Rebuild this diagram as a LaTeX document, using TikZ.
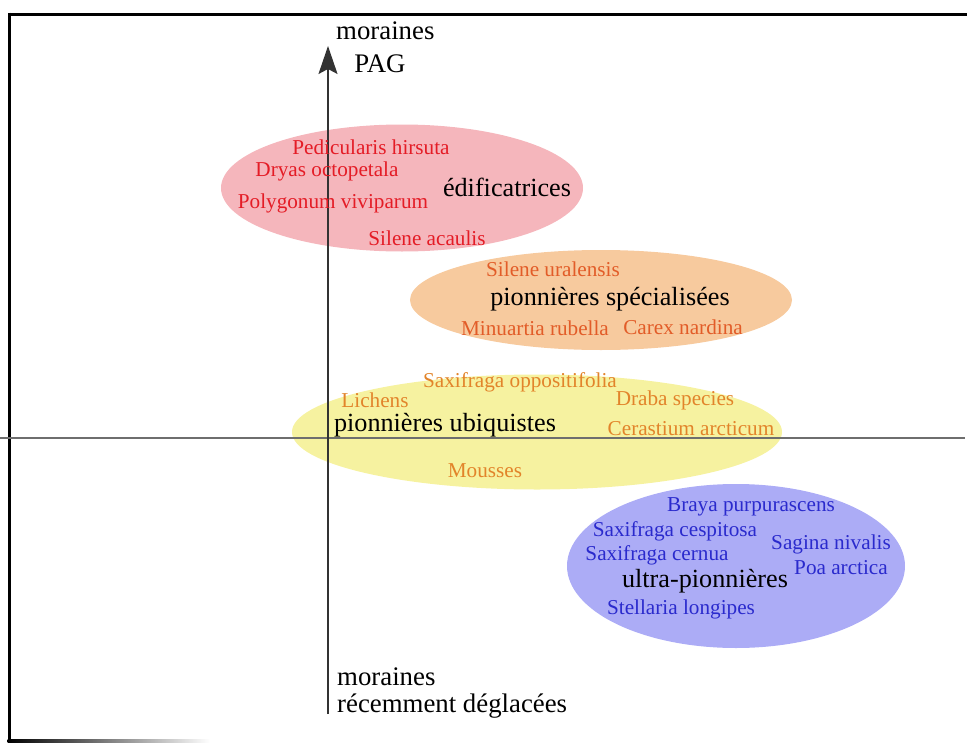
\documentclass[tikz,border=0pt]{standalone}
\usepackage{fontspec}
\setmainfont{Liberation Serif}
\usetikzlibrary{shapes.geometric,arrows.meta}
\definecolor{pinkfill}{RGB}{245,182,188}
\definecolor{orangefill}{RGB}{247,202,158}
\definecolor{yellowfill}{RGB}{246,242,160}
\definecolor{bluefill}{RGB}{172,172,246}
\definecolor{redtxt}{RGB}{228,28,38}
\definecolor{orangetxt}{RGB}{226,92,40}
\definecolor{ambertxt}{RGB}{226,132,42}
\definecolor{bluetxt}{RGB}{42,42,205}
\definecolor{axisgray}{RGB}{110,110,110}
\begin{document}
\begin{tikzpicture}[x=1pt,y=-1pt,
  zone/.style={ellipse,draw=none,inner sep=0pt},
  species/.style={inner sep=0pt,font=\fontsize{21.2}{24}\selectfont},
  group/.style={inner sep=0pt,text=black,font=\fontsize{26.2}{30}\selectfont},
  axislabel/.style={inner sep=0pt,text=black,font=\fontsize{26.8}{30}\selectfont}]
\useasboundingbox (0,0) rectangle (967,744);
% frame
\draw[line width=3pt] (8,14) -- (967,14);
\draw[line width=3pt] (9,12.5) -- (9,742);
\shade[left color=black,right color=white] (7.5,739.5) rectangle (210,742.5);
% zones
\node[zone,fill=orangefill,minimum width=382,minimum height=100] (zspec) at (601,300) {};
\node[zone,fill=pinkfill,minimum width=362,minimum height=127] (zedif) at (402,188) {};
\node[zone,fill=bluefill,minimum width=338,minimum height=164] (zultra) at (736,566) {};
\node[zone,fill=yellowfill,minimum width=490,minimum height=115] (zubiq) at (537,432) {};
% axes
\coordinate (hl) at (0,438);
\coordinate (hr) at (965,438);
\draw[axisgray,line width=1.3pt] (hl) -- (hr);
\coordinate (vb) at (328,714);
\coordinate (vt) at (328,46);
\draw[black!80,line width=1.4pt,-{Stealth[length=28pt,width=19pt,inset=5pt]}] (vb) -- (vt);
% axis labels
\node[axislabel,anchor=west] (m1) at (336,31) {moraines};
\node[axislabel] (pag) at (380,64) {PAG};
\node[axislabel,anchor=west] (m2) at (337,677) {moraines};
\node[axislabel,anchor=west] (rec) at (337,706) {récemment déglacées};
% edificatrices
\node[species,text=redtxt] (ped) at (371,147) {Pedicularis hirsuta};
\node[species,text=redtxt] (dry) at (327,171) {Dryas octopetala};
\node[species,text=redtxt] (pol) at (333,203) {Polygonum viviparum};
\node[group] (edif) at (507,187) {édificatrices};
\node[species,text=redtxt] (sac) at (427,238) {Silene acaulis};
% pionnieres specialisees
\node[species,text=orangetxt] (sur) at (553,269) {Silene uralensis};
\node[group] (spec) at (610,299) {pionnières spécialisées};
\node[species,text=orangetxt] (min) at (535,328) {Minuartia rubella};
\node[species,text=orangetxt] (car) at (683,327) {Carex nardina};
% pionnieres ubiquistes
\node[species,text=ambertxt] (sop) at (520,382) {Saxifraga oppositifolia};
\node[species,text=ambertxt] (lic) at (375,400) {Lichens};
\node[species,text=ambertxt] (dra) at (675,400) {Draba species};
\node[group] (ubiq) at (445,425) {pionnières ubiquistes};
\node[species,text=ambertxt] (cer) at (691,429) {Cerastium arcticum};
\node[species,text=ambertxt] (mou) at (485,471) {Mousses};
% ultra-pionnieres
\node[species,text=bluetxt] (bra) at (751,507) {Braya purpurascens};
\node[species,text=bluetxt] (sce) at (675,531) {Saxifraga cespitosa};
\node[species,text=bluetxt] (scn) at (657,555) {Saxifraga cernua};
\node[species,text=bluetxt] (sag) at (831,544) {Sagina nivalis};
\node[species,text=bluetxt] (poa) at (841,568) {Poa arctica};
\node[group] (ultra) at (705,581) {ultra-pionnières};
\node[species,text=bluetxt] (ste) at (681,609) {Stellaria longipes};
\end{tikzpicture}
\end{document}
